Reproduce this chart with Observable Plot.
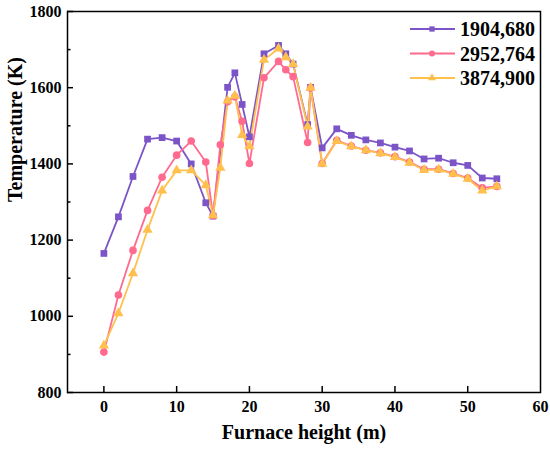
<!DOCTYPE html>
<html><head><meta charset="utf-8">
<script src="https://cdn.jsdelivr.net/npm/d3@7"></script>
<script src="https://cdn.jsdelivr.net/npm/@observablehq/plot@0.6"></script>
<style>
body{margin:0;background:#fff;}
#wrap{position:relative;width:550px;height:450px;}
</style></head><body><div id="wrap"></div>
<script>
const heights = [0,2,4,6,8,10,12,14,15,16,17,18,19,20,22,24,25,26,28,28.4,30,32,34,36,38,40,42,44,46,48,50,52,54];
const seriesNames = ["1904,680","2952,764","3874,900"];
const colors = ["#7b55c8","#ff6a8e","#ffc04e"];
const symbols = ["square","circle","triangle"];
// null = no point measured at that height
const temp1904 = [1165,1261,1367,1465,1469,1460,1400,1298,1263,null,1601,1639,1556,1471,1689,1711,1689,1662,1503,1601,1442,1492,1475,1463,1455,1444,1434,1413,1415,1403,1396,1363,1361];
const temp2952 = [906,1056,1173,1278,1365,1423,1460,1405,1264,1450,1563,1576,1512,1401,1626,1669,1647,1629,1456,1599,1401,1462,1447,1436,1429,1419,1405,1386,1386,1375,1363,1337,1341];
const temp3874 = [923,1008,1113,1227,1330,1383,1383,1344,1265,1390,1566,1579,1476,1446,1673,1703,1680,1662,1498,1600,1400,1460,1446,1436,1428,1418,1403,1384,1385,1374,1361,1330,1341];
const xTicks = [0,10,20,30,40,50,60];
const yTicks = [800,1000,1200,1400,1600,1800];
const yMinorTicks = [900,1100,1300,1500,1700];
const xLabel = "Furnace height (m)";
const yLabel = "Temperature (K)";

const allTemps = [temp1904, temp2952, temp3874];
const rows = [];
allTemps.forEach((arr, s) => arr.forEach((t, i) => {
  if (t != null) rows.push({series: seriesNames[s], x: heights[i], y: t});
}));

const font = "Liberation Serif, Times New Roman, serif";
const chart = Plot.plot({
  width: 550, height: 450,
  marginLeft: 67, marginRight: 10, marginTop: 11, marginBottom: 58,
  style: {fontFamily: font, fontWeight: "bold", fontSize: "16px", color: "black", background: "white", overflow: "visible"},
  x: {domain: [-5, 60]},
  y: {domain: [800, 1800]},
  color: {domain: seriesNames, range: colors},
  symbol: {domain: seriesNames, range: symbols},
  marks: [
    Plot.axisX(xTicks.slice(0, 6), {tickSize: -6, tickPadding: 14, strokeWidth: 1.5, label: null, fontSize: 16, fontWeight: "bold", tickFormat: d => String(d)}),
    Plot.axisX([60], {tickSize: 0, tickPadding: 8, label: null, fontSize: 16, fontWeight: "bold", tickFormat: d => String(d)}),
    Plot.axisY(yTicks, {tickSize: -6, tickPadding: 12, strokeWidth: 1.5, label: null, fontSize: 16, fontWeight: "bold", tickFormat: d => String(d)}),
    Plot.axisY(yMinorTicks, {tickSize: -3.5, strokeWidth: 1.5, text: null, label: null}),
    Plot.frame({stroke: "black", strokeWidth: 1.5}),
    Plot.line(rows, {x: "x", y: "y", stroke: "series", z: "series", strokeWidth: 1.8}),
    Plot.dot(rows, {x: "x", y: "y", fill: "series", symbol: "series", r: 3.8, stroke: "none"}),
    Plot.text([xLabel], {text: d => d, frameAnchor: "bottom", dy: 46, fontSize: 20, fontWeight: "bold"}),
    Plot.text([yLabel], {text: d => d, frameAnchor: "left", dx: -52, rotate: -90, fontSize: 20, fontWeight: "bold"})
  ]
});
document.getElementById("wrap").appendChild(chart);

// legend inside the plot (top right)
const svg = d3.select(chart);
const lg = svg.append("g").attr("font-family", font).attr("font-weight", "bold").attr("font-size", 20).attr("text-anchor", "start");
seriesNames.forEach((name, i) => {
  const yy = 29 + i * 24.5;
  lg.append("line").attr("x1", 410).attr("x2", 455).attr("y1", yy).attr("y2", yy)
    .attr("stroke", colors[i]).attr("stroke-width", 1.8);
  lg.append("path").attr("transform", `translate(432,${yy})`)
    .attr("d", d3.symbol(i === 0 ? d3.symbolSquare : i === 1 ? d3.symbolCircle : d3.symbolTriangle, 28)())
    .attr("fill", colors[i]);
  lg.append("text").attr("x", 460).attr("y", yy).attr("dy", "0.35em").attr("text-anchor", "start").attr("fill", "black").text(name);
});
</script>
</body></html>
